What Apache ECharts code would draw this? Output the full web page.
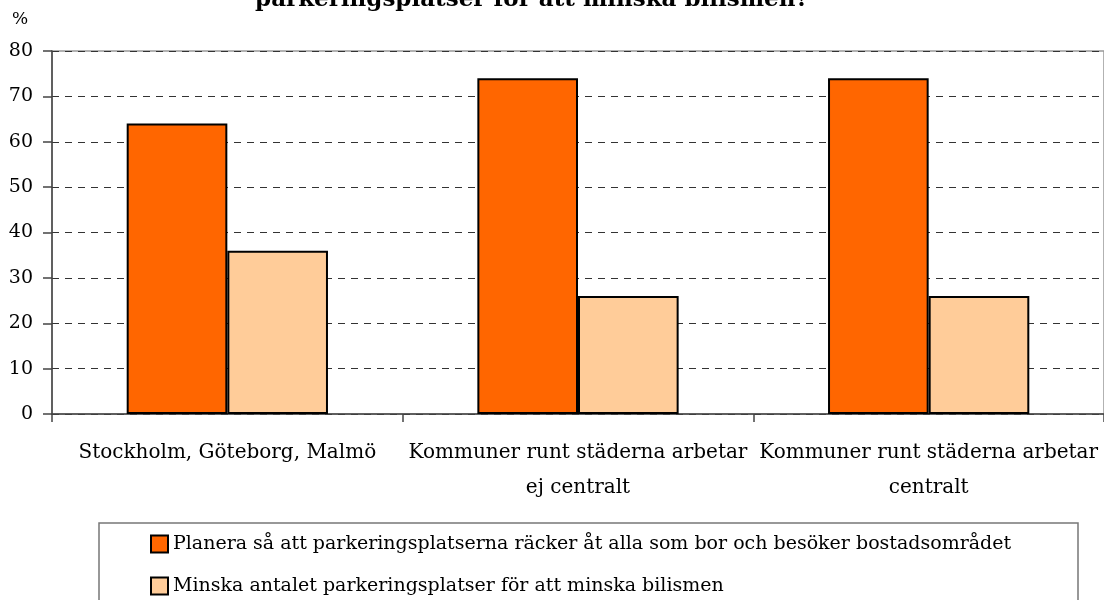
<!DOCTYPE html>
<html><head><meta charset="utf-8">
<script src="https://cdn.jsdelivr.net/npm/echarts@6/dist/echarts.min.js"></script>
<style>html,body{margin:0;padding:0;background:#fff}#c{width:1104px;height:600px}</style>
</head><body><div id="c"></div>
<script>
const categories = ['Stockholm, Göteborg, Malmö', 'Kommuner runt städerna arbetar\nej centralt', 'Kommuner runt städerna arbetar\ncentralt'];
const seriesNames = ['Planera så att parkeringsplatserna räcker åt alla som bor och besöker bostadsområdet', 'Minska antalet parkeringsplatser för att minska bilismen'];
const planera = [64, 74, 74];
const minska = [36, 26, 26];
const titleText = 'parkeringsplatser för att minska bilismen?';
const font = '"DejaVu Serif", "Liberation Serif", serif';
const chart = echarts.init(document.getElementById('c'));
chart.setOption({
  animation: false,
  backgroundColor: '#fff',
  grid: {left: 52, right: -2, top: 51, bottom: 186, show: true, borderColor: '#999', borderWidth: 1.5},
  legend: {
    orient: 'vertical', left: 150, top: 534, height: 100, padding: 0, itemGap: 22, itemWidth: 17, itemHeight: 17,
    icon: 'rect',
    textStyle: {fontFamily: font, fontSize: 19, color: '#000', lineHeight: 20},
    data: seriesNames
  },
  graphic: [
    {type: 'rect', shape: {x: 99, y: 523, width: 979, height: 100}, style: {fill: 'none', stroke: '#777', lineWidth: 1.5}, z: -1},
    {type: 'text', x: 532, y: 0, style: {text: titleText, font: 'bold 23px ' + font, fill: '#000', textAlign: 'center', textVerticalAlign: 'middle'}},
    {type: 'text', x: 20, y: 20, style: {text: '%', font: '17px ' + font, fill: '#000', textAlign: 'center', textVerticalAlign: 'middle'}}
  ],
  xAxis: {
    type: 'category', data: categories,
    axisLine: {lineStyle: {color: '#444', width: 1.5}},
    axisTick: {show: true, interval: 0, length: 8, lineStyle: {color: '#444', width: 1.5}},
    axisLabel: {interval: 0, fontFamily: font, fontSize: 20, color: '#000', margin: 21, lineHeight: 35}
  },
  yAxis: {
    type: 'value', min: 0, max: 80, interval: 10,
    axisLine: {show: true, lineStyle: {color: '#444', width: 1.5}},
    axisTick: {show: true, length: 9, lineStyle: {color: '#444', width: 1.5}},
    axisLabel: {fontFamily: font, fontSize: 19, color: '#000', margin: 19},
    splitLine: {lineStyle: {color: '#333', type: [7, 6], width: 1}}
  },
  series: [
    {name: seriesNames[0], type: 'bar', data: planera, barGap: '0%', barCategoryGap: '42.6%',
     itemStyle: {color: '#FF6600', borderColor: '#000', borderWidth: 2}},
    {name: seriesNames[1], type: 'bar', data: minska,
     itemStyle: {color: '#FFCC99', borderColor: '#000', borderWidth: 2}}
  ]
});
</script></body></html>
